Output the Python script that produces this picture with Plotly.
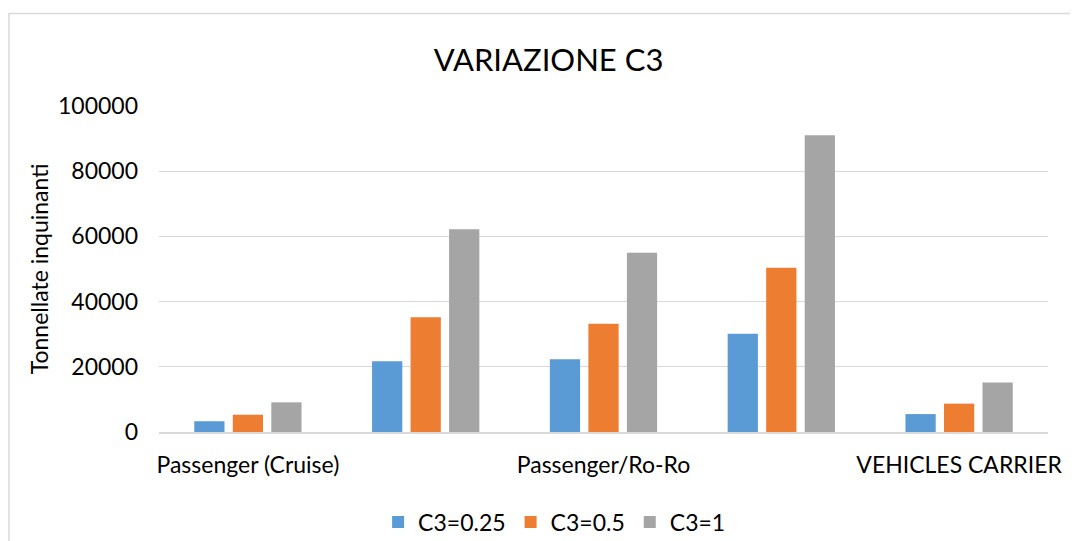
import plotly.graph_objects as go

categories = ["Passenger (Cruise)", "", "Passenger/Ro-Ro", "", "VEHICLES CARRIER"]
series_names = ["C3=0.25", "C3=0.5", "C3=1"]
c3_025 = [3300, 21700, 22300, 30100, 5500]
c3_05 = [5300, 35200, 33200, 50400, 8700]
c3_1 = [9100, 62200, 55000, 91000, 15200]
y_ticks = [0, 20000, 40000, 60000, 80000, 100000]
colors = ["#5b9bd5", "#ed7d31", "#a5a5a5"]

FONT = "Lato"
x_pos = list(range(len(categories)))

fig = go.Figure()
for name, vals, col in zip(series_names, [c3_025, c3_05, c3_1], colors):
    fig.add_trace(go.Bar(x=x_pos, y=vals, name=name, marker_color=col,
                         marker_line_width=0))

shown = [i for i, c in enumerate(categories) if c]
OFF = 8  # page body margin
H = 570
fig.update_layout(
    width=1078, height=H,
    margin=dict(l=159 - OFF, r=30 + OFF, t=106 - OFF, b=H - (432 - OFF)),
    paper_bgcolor="white", plot_bgcolor="white",
    barmode="group", bargap=0.35, bargroupgap=0.215,
    font=dict(family=FONT, size=23, color="#000000"),
    title=dict(text="VARIAZIONE C3", x=(548.5 - OFF) / 1078, xanchor="center",
               y=1 - (60 - OFF) / H, yanchor="middle", xref="container", yref="container",
               font=dict(family=FONT, size=31, color="#000000")),
    xaxis=dict(range=[-0.5, 4.5], tickvals=shown, ticktext=[categories[i] for i in shown],
               showgrid=False, showline=True, linecolor="#d9d9d9", linewidth=1.5,
               ticks="", ticklabelstandoff=12, tickfont=dict(size=23)),
    yaxis=dict(range=[0, 100000], tickvals=y_ticks, ticktext=[str(v) for v in y_ticks],
               showgrid=True, gridcolor="#d9d9d9", gridwidth=1.3, zeroline=False,
               showline=False, ticks="", ticklabelstandoff=20, tickfont=dict(size=23),
               title=dict(text="Tonnellate inquinanti", standoff=2, font=dict(size=23))),
    legend=dict(orientation="h", x=0.445, xanchor="center", y=-0.276, yanchor="middle",
                font=dict(size=23), itemwidth=30, traceorder="normal"),
    shapes=[dict(type="rect", xref="paper", yref="paper", x0=-0.1687, x1=1.2,
                 y0=-0.6, y1=1.284, line=dict(color="#d9d9d9", width=1.5),
                 fillcolor="rgba(0,0,0,0)", layer="below")],
)

fig.write_html("out.html")
